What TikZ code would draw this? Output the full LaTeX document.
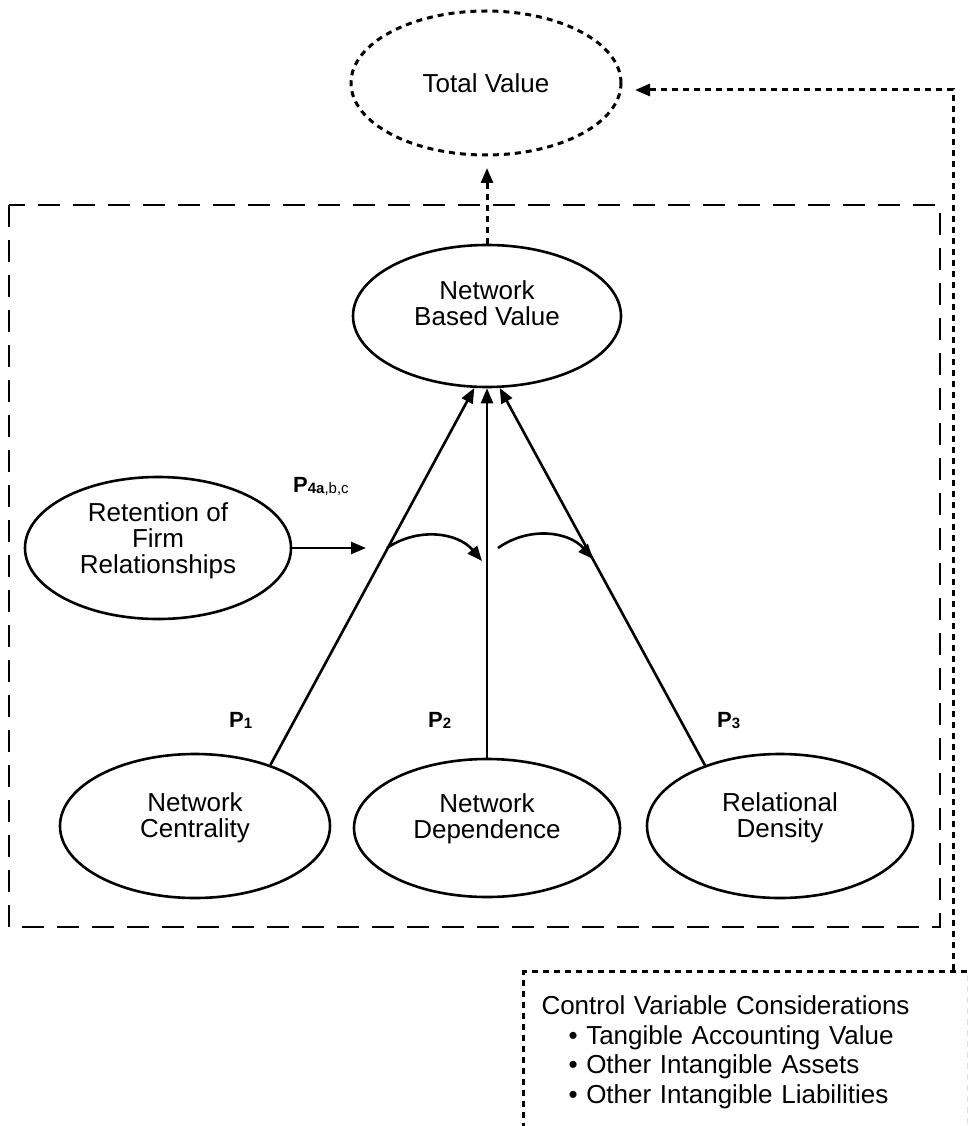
\documentclass[tikz,border=0pt]{standalone}
\usepackage{fontspec}
\setmainfont{Liberation Sans}
\usetikzlibrary{shapes.geometric,arrows.meta}
\newcommand\lowdepth[1]{\rule[-#1pt]{0pt}{1pt}}
\begin{document}
\begin{tikzpicture}[x=1pt,y=-1pt,
  oval/.style={ellipse,draw,line width=2.6pt,inner sep=0pt,align=center,
    font=\fontsize{26}{26}\selectfont},
  dotline/.style={line width=3pt,dash pattern=on 6pt off 5pt},
  bigdash/.style={line width=2.8pt,dash pattern=on 22pt off 13pt},
  tip/.style={-{Triangle[length=15pt,width=12pt]}},
  solidarr/.style={line width=2.6pt,tip},
  plabel/.style={anchor=base west,inner sep=0pt,font=\fontsize{22}{22}\selectfont\bfseries}
]
\useasboundingbox (0,0) rectangle (967,1126);
\clip (0,0) rectangle (967,1126);

% big dashed frame
\draw[bigdash] (9,205) rectangle (940,927);

% nodes
\node[oval,dotline,minimum width=270pt,minimum height=144pt] (TV) at (486,83) {Total Value};
\node[oval,minimum width=268pt,minimum height=142pt] (NBV) at (487,316) {Network\\Based Value\lowdepth{25}};
\node[oval,minimum width=266pt,minimum height=142pt] (RET) at (158,548) {Retention of\\Firm\\Relationships\lowdepth{19}};
\node[oval,minimum width=270pt,minimum height=144pt] (NC) at (195,826) {Network\\Centrality\lowdepth{22}};
\node[oval,minimum width=266pt,minimum height=138pt] (ND) at (487,828) {Network\\Dependence\lowdepth{24}};
\node[oval,minimum width=266pt,minimum height=144pt] (RD) at (780,826) {Relational\\Density\lowdepth{22}};

\node[draw,dotline,anchor=north west,minimum width=445pt,minimum height=180pt,
  text width=409pt,inner xsep=18pt,align=left,
  font=\fontsize{26}{29.7}\selectfont] (ctrl) at (522,970)
  {Control Variable Considerations\\
   \hspace*{27pt}• Tangible Accounting Value\\
   \hspace*{27pt}• Other Intangible Assets\\
   \hspace*{27pt}• Other Intangible Liabilities\lowdepth{24}};

% labels
\node[plabel] (p1) at (229,727) {P\raisebox{-1pt}{\fontsize{15}{15}\selectfont 1}};
\node[plabel] (p2) at (428,727) {P\raisebox{-1pt}{\fontsize{15}{15}\selectfont 2}};
\node[plabel] (p3) at (717,727) {P\raisebox{-1pt}{\fontsize{15}{15}\selectfont 3}};
\node[plabel] (p4) at (293,492) {P\raisebox{-1pt}{\fontsize{15}{15}\selectfont 4a\mdseries,b,c}};

% coordinates
\coordinate (tvin) at (635,90);
\coordinate (tvbot) at (487,168);
\coordinate (retend) at (366,548);
\coordinate (m1s) at (387,548);
\coordinate (m1e) at (482,561);
\coordinate (m2s) at (498,548);
\coordinate (m2e) at (593,559);

% connectors
\draw[solidarr] (NC.39) -- (NBV.-100);
\draw[solidarr] (ND.north) -- (NBV.south);
\draw[solidarr] (RD.141) -- (NBV.-80);
\draw[solidarr] (RET.east) -- (retend);
\draw[solidarr] (m1s) to[bend left=42] (m1e);
\draw[solidarr] (m2s) to[bend left=42] (m2e);
\draw[dotline,tip] (NBV.north) -- (tvbot);
\draw[dotline,tip] ([xshift=-17pt]ctrl.north east) |- (tvin);
\end{tikzpicture}
\end{document}
